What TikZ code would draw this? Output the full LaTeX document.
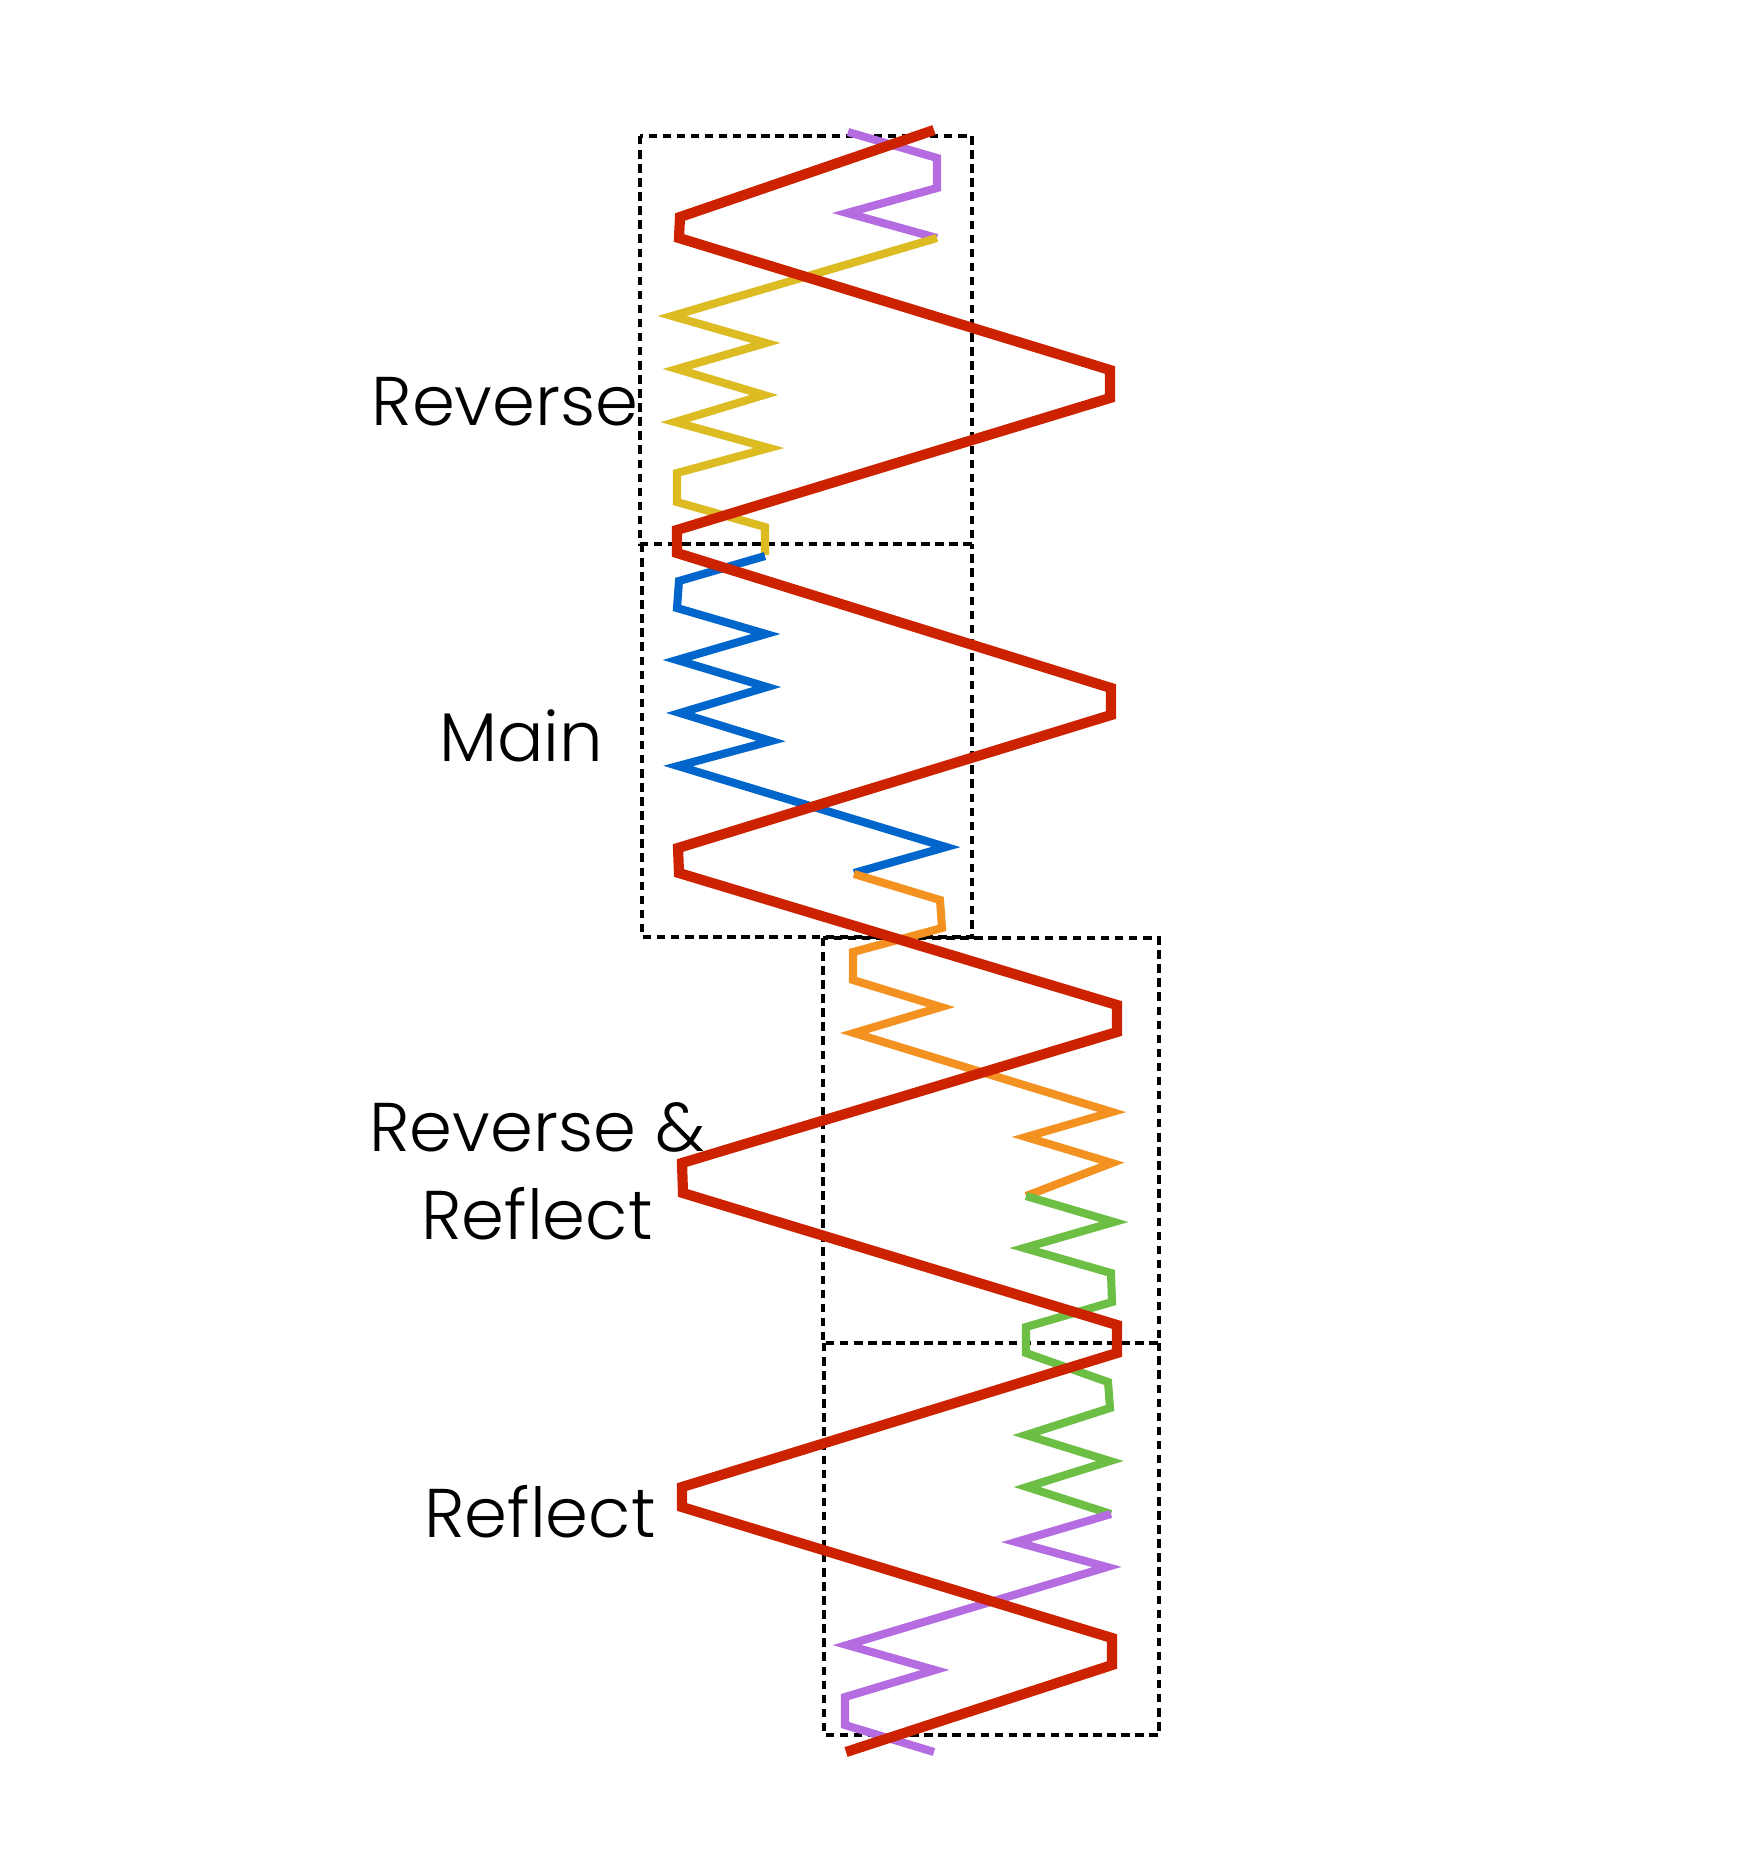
\documentclass[tikz,border=0pt]{standalone}
\usepackage{fontspec}
\setmainfont{Poppins}[UprightFont=* Light]
\usepackage{xcolor}
\usepackage{tikz}

\definecolor{mred}{HTML}{CC2200}
\definecolor{myellow}{HTML}{DDBB22}
\definecolor{mblue}{HTML}{0066CC}
\definecolor{morange}{HTML}{F39220}
\definecolor{mgreen}{HTML}{6CBF44}
\definecolor{mpurple}{HTML}{B46CE0}

\begin{document}
\begin{tikzpicture}[x=0.01cm, y=-0.01cm,
        box/.style={black, line width=1.1pt, dash pattern=on 2.4pt off 1.6pt},
        wave/.style={line width=2.3pt, line join=miter},
        bigwave/.style={mred, line width=2.9pt, line join=miter},
        lbl/.style={font=\fontsize{19.6}{25}\selectfont, inner sep=0pt, align=center}]
        \useasboundingbox (0,0) rectangle (1754,1872);
        % dotted frames
        \draw[box] (640,136) rectangle (972,544);
        \draw[box] (642,544) -- (642,937) -- (972,937) -- (972,544);
        \draw[box] (823,938) rectangle (1159,1343);
        \draw[box] (824,1343) -- (824,1735) -- (1159,1735) -- (1159,1343);
        % small waves
        \draw[wave, mpurple] (848,132)--(937,158)--(937,188)--(847,213)--(937,238);
        \draw[wave, myellow] (937,238)--(672,316)--(766,343)--(677,369)--(764,395)--(675,422)--(769,448)--(677,473)--(677,502)--(765,527)--(765,555);
        \draw[wave, mblue] (765,556)--(679,581)--(677,608)--(766,634)--(677,660)--(767,687)--(680,713)--(771,741)--(678,766)--(946,847)--(854,873);
        \draw[wave, morange] (854,874)--(940,900)--(942,928)--(853,952)--(853,980)--(941,1007)--(854,1033)--(1112,1112)--(1026,1137)--(1112,1163)--(1026,1196);
        \draw[wave, mgreen] (1026,1196)--(1114,1222)--(1024,1248)--(1111,1273)--(1112,1302)--(1026,1327)--(1026,1353)--(1108,1382)--(1110,1408)--(1026,1435)--(1110,1461)--(1027,1487)--(1111,1514);
        \draw[wave, mpurple] (1111,1514)--(1016,1542)--(1107,1567)--(847,1645)--(935,1670)--(845,1697)--(845,1725)--(934,1752);
        % big wave
        \draw[bigwave] (934,130)--(680,217)--(679,238)--(1110,370)--(1110,398)--(677,530)--(677,553)--(1111,688)--(1111,715)--(678,848)--(679,873)--(1117,1005)--(1117,1032)--(682,1163)--(683,1193)--(1117,1325)--(1117,1353)--(682,1487)--(682,1507)--(1112,1638)--(1112,1665)--(846,1752);
        % labels
        \node[lbl, anchor=base] (reverse) at (505,425) {Reverse};
        \node[lbl, anchor=base] (main) at (521,761) {Main};
        \node[lbl] (revrefl) at (537,1171) {Reverse \&\\Reflect};
        \node[lbl, anchor=base] (reflect) at (540,1537) {Reflect};
\end{tikzpicture}
\end{document}
